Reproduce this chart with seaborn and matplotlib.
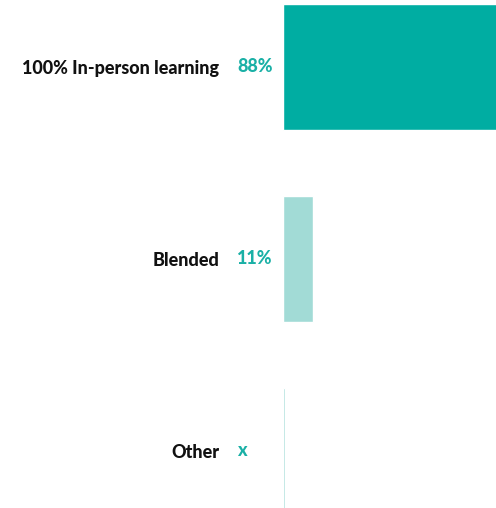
import matplotlib
matplotlib.use("Agg")
import matplotlib.pyplot as plt
import seaborn as sns
import pandas as pd

categories = ["100% In-person learning", "Blended", "Other"]
values = [88, 11, 0.9]
value_labels = ["88%", "11%", "x"]
colors = ["#00ADA2", "#A2DBD6", "#A2DBD6"]

df = pd.DataFrame({"category": categories, "value": values})

sns.set_style("white")
plt.rcParams["font.family"] = ["Lato", "DejaVu Sans"]

dpi = 100
fig = plt.figure(figsize=(4.96, 5.08), dpi=dpi)
# axes spans from bar start (x=283px) to the right edge
ax = fig.add_axes([283 / 496, 0, 1 - 283 / 496, 1])

sns.barplot(data=df, x="value", y="category", hue="category", palette=colors,
            orient="h", width=126 / 192, legend=False, ax=ax, saturation=1)

# the big bar runs off the right edge in the original
ax.set_xlim(0, 78)
ax.set_ylim((508 - 67) / 192, -67 / 192)
ax.set_xlabel("")
ax.set_ylabel("")
ax.set_xticks([])
sns.despine(ax=ax, left=True, bottom=True)

ax.tick_params(axis="y", length=0, pad=(283 - 219) * 72 / dpi)
for lbl in ax.get_yticklabels():
    lbl.set_fontweight(900)
    lbl.set_fontsize(13)
    lbl.set_color("#111111")

for i, txt in enumerate(value_labels):
    ax.annotate(txt, xy=(0, i), xytext=(-(283 - 237) * 72 / dpi, 0),
                textcoords="offset points", ha="left", va="center",
                fontsize=13, fontweight=900, color="#1AB0A6",
                annotation_clip=False)

fig.savefig("out.png", dpi=dpi)
